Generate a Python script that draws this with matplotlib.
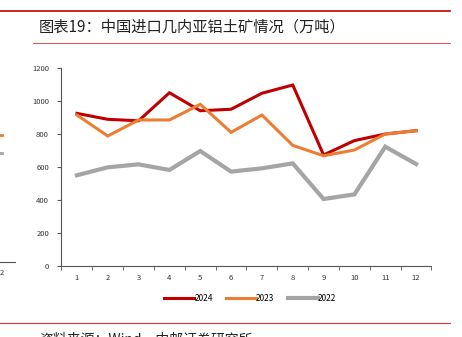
import matplotlib.pyplot as plt
import numpy as np
from matplotlib.lines import Line2D

plt.rcParams['font.family'] = ['Noto Sans CJK SC', 'DejaVu Sans']

months = [1, 2, 3, 4, 5, 6, 7, 8, 9, 10, 11, 12]
y2024 = [925, 889, 880, 1050, 941, 950, 1047, 1097, 673, 760, 800, 820]
y2023 = [915, 788, 885, 885, 980, 810, 915, 731, 668, 703, 800, 820]
y2022 = [550, 598, 616, 582, 697, 572, 592, 622, 406, 434, 723, 618]
yticks = [0, 200, 400, 600, 800, 1000, 1200]

fig = plt.figure(figsize=(4.62, 3.37), dpi=100)
ax = fig.add_axes([61.5 / 462, 1 - 266 / 337, 370 / 462, 198 / 337])

ax.plot(months, y2024, color='#C00000', lw=2.2, label='2024', solid_joinstyle='miter')
ax.plot(months, y2023, color='#ED7D31', lw=2.2, label='2023', solid_joinstyle='miter')
ax.plot(months, y2022, color='#A5A5A5', lw=3.0, label='2022', solid_joinstyle='miter')

ax.set_xlim(0.5, 12.5)
ax.set_ylim(0, 1200)
ax.set_yticks(yticks)
ax.set_yticklabels([str(v) for v in yticks], fontsize=5.5, color='#333333')
ax.set_xticks(months)
ax.set_xticklabels([str(m) for m in months], fontsize=5.5, color='#333333')
ax.set_xticks(np.arange(0.5, 13, 1), minor=True)
ax.tick_params(axis='x', which='major', length=0, pad=6)
ax.tick_params(axis='x', which='minor', length=3, color='#555555', direction='out')
ax.tick_params(axis='y', length=3, color='#555555', direction='out', pad=6)
for s in ['top', 'right']:
    ax.spines[s].set_visible(False)
for s in ['left', 'bottom']:
    ax.spines[s].set_color('#555555')
    ax.spines[s].set_linewidth(0.8)

ax.legend(loc='upper center', bbox_to_anchor=(0.51, -0.105), ncol=3, frameon=False,
          fontsize=6, handlelength=3.6, handletextpad=0.0, columnspacing=1.6)

# header and footer
fig.add_artist(Line2D([0, 450 / 462], [1 - 11 / 337] * 2, color='#C00000', lw=1.2))
fig.add_artist(Line2D([33 / 462, 450 / 462], [1 - 43 / 337] * 2, color='#E03030', lw=0.6))
fig.add_artist(Line2D([0, 450 / 462], [1 - 323 / 337] * 2, color='#E03030', lw=0.8))
fig.text(39 / 462, 1 - 27 / 337, '图表19：中国进口几内亚铝土矿情况（万吨）', fontsize=11,
         va='center', ha='left', color='#222222')
fig.text(39 / 462, 1 - 339 / 337, '资料来源：Wind，中邮证券研究所', fontsize=10,
         va='center', ha='left', color='#222222')

# fragments of the neighbouring chart on the left edge
fig.add_artist(Line2D([0, 2 / 462], [1 - 135 / 337] * 2, color='#ED7D31', lw=2))
fig.add_artist(Line2D([0, 2 / 462], [1 - 153 / 337] * 2, color='#A5A5A5', lw=2))
fig.add_artist(Line2D([0, 15 / 462], [1 - 262 / 337] * 2, color='#555555', lw=0.8))
fig.text(0, 1 - 273 / 337, '2', fontsize=5.5, va='center', ha='left', color='#333333')

fig.savefig('out.png', dpi=100)
